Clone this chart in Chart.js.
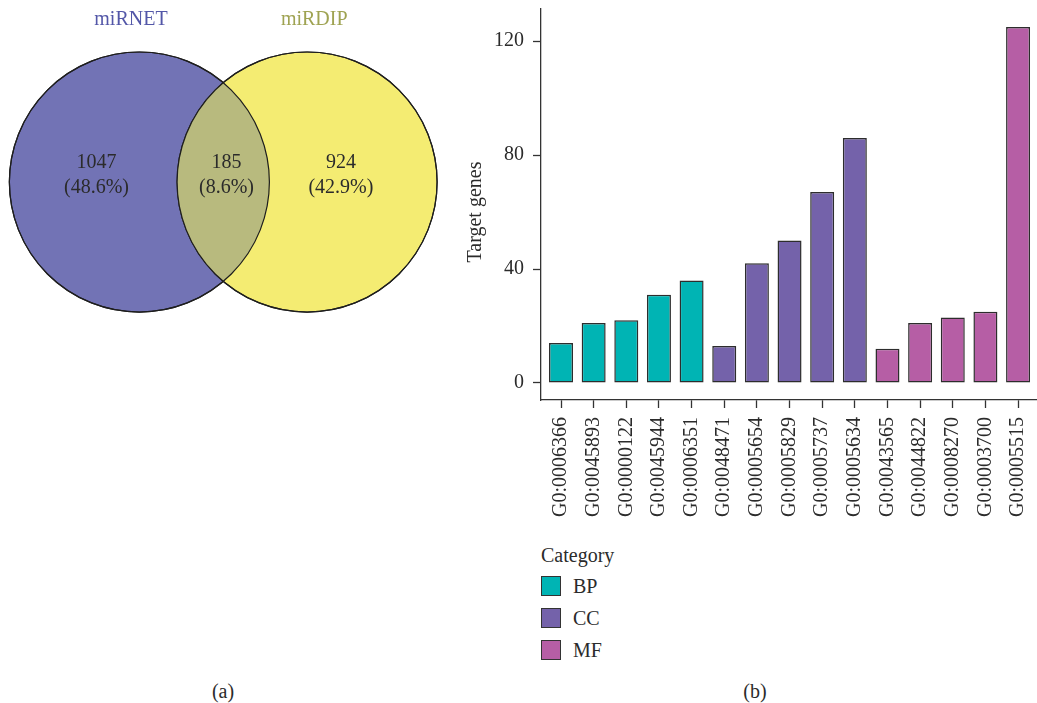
<!DOCTYPE html>
<html>
<head>
<meta charset="utf-8">
<title>miRNA target overlap and GO enrichment</title>
<script src="https://cdn.jsdelivr.net/npm/chart.js@4.4.1/dist/chart.umd.min.js"></script>
<style>
  html, body { margin: 0; padding: 0; background: #ffffff; }
  #page {
    position: relative; width: 1037px; height: 703px; overflow: hidden;
    font-family: 'Liberation Serif', 'DejaVu Serif', serif; color: #2b2b2b;
  }
  #venn { position: absolute; left: 0; top: 0; }
  #bars { position: absolute; left: 460px; top: 0; }
  .panel-tag {
    position: absolute; top: 679px; font-size: 20px; line-height: 24px;
    transform: translateX(-50%); white-space: nowrap;
  }
  #legend { position: absolute; left: 541px; top: 543px; font-size: 20px; line-height: 24px; }
  #legend .lg-title { height: 24px; margin-bottom: 9px; }
  #legend .lg-item { position: relative; height: 20px; margin-bottom: 12px; }
  #legend .lg-box {
    position: absolute; left: 0; top: 0; width: 18px; height: 18px;
    border: 1.5px solid #333333;
  }
  #legend .lg-label { position: absolute; left: 32px; top: -2px; }
</style>
</head>
<body>
<div id="page">
  <canvas id="venn" width="460" height="330"></canvas>
  <canvas id="bars" width="577" height="530"></canvas>
  <div id="legend"></div>
  <div class="panel-tag" style="left:223px">(a)</div>
  <div class="panel-tag" style="left:755px">(b)</div>
</div>
<script>
// ---- data ------------------------------------------------------------
// Venn: the two target sources and the size of each region
const vennSets = ['miRNET', 'miRDIP'];
const vennCounts = [1047, 185, 924];   // miRNET only, shared, miRDIP only

// GO terms enriched among the shared targets
const goTerms = [
  'G0:0006366', 'G0:0045893', 'G0:0000122', 'G0:0045944', 'G0:0006351',
  'G0:0048471', 'G0:0005654', 'G0:0005829', 'G0:0005737', 'G0:0005634',
  'G0:0043565', 'G0:0044822', 'G0:0008270', 'G0:0003700', 'G0:0005515'
];
const goCategory = [
  'BP', 'BP', 'BP', 'BP', 'BP',
  'CC', 'CC', 'CC', 'CC', 'CC',
  'MF', 'MF', 'MF', 'MF', 'MF'
];
const geneCounts = [14, 21, 22, 31, 36, 13, 42, 50, 67, 86, 12, 21, 23, 25, 125];
const categoryNames = ['BP', 'CC', 'MF'];
const yTickValues = [0, 40, 80, 120];
const yAxisTitle = 'Target genes';

// ---- styling ---------------------------------------------------------
const TEXT = '#2b2b2b';
const AXIS = '#333333';
const SERIF = "'Liberation Serif', 'DejaVu Serif', serif";
const categoryColours = { BP: '#00b4b4', CC: '#7462aa', MF: '#b65ea5' };
const setColours = ['#7273b5', '#f4ec72'];
const setTitleColours = ['#5357a8', '#9fa352'];
const overlapColour = '#b8ba7e';
const outline = '#1e1e1e';

// ---- Venn diagram ----------------------------------------------------
// geometry in "radius units": two equal circles whose centres are 1.29 r apart
const CIRCLE_R = 1;
const CENTRE_GAP = 1.29;
const unitPx = chart => {
  const xs = chart.scales.x;
  const px = xs ? Math.abs(xs.getPixelForValue(1) - xs.getPixelForValue(0)) : 0;
  return Number.isFinite(px) ? px : 0;
};
const regionLabelX = [-0.975, 0.025, 0.905];
const titleX = [-0.71, 0.70];
const titleY = 1.246;

const vennPlugin = {
  id: 'vennRegions',
  afterDatasetsDraw(chart) {
    const { ctx, scales: { x, y } } = chart;
    const r = unitPx(chart) * CIRCLE_R;
    const circles = chart.getDatasetMeta(0).data.map(el => ({ x: el.x, y: el.y, r }));
    const [a, b] = circles;

    // shared region
    ctx.save();
    ctx.beginPath(); ctx.arc(a.x, a.y, a.r, 0, Math.PI * 2); ctx.clip();
    ctx.beginPath(); ctx.arc(b.x, b.y, b.r, 0, Math.PI * 2);
    ctx.fillStyle = overlapColour; ctx.fill();
    ctx.restore();

    // outlines on top
    ctx.save();
    ctx.strokeStyle = outline; ctx.lineWidth = 1.2;
    circles.forEach(c => { ctx.beginPath(); ctx.arc(c.x, c.y, c.r, 0, Math.PI * 2); ctx.stroke(); });
    ctx.restore();

    // set names
    ctx.save();
    ctx.font = `20px ${SERIF}`;
    ctx.textAlign = 'center'; ctx.textBaseline = 'middle';
    vennSets.forEach((name, i) => {
      ctx.fillStyle = setTitleColours[i];
      ctx.fillText(name, x.getPixelForValue(titleX[i]), y.getPixelForValue(titleY));
    });

    // region counts and shares
    const total = vennCounts.reduce((s, v) => s + v, 0);
    const cy = y.getPixelForValue(0) - 7;
    ctx.fillStyle = TEXT;
    vennCounts.forEach((n, i) => {
      const px = x.getPixelForValue(regionLabelX[i]);
      ctx.fillText(String(n), px, cy - 12.7);
      ctx.fillText(`(${(n / total * 100).toFixed(1)}%)`, px, cy + 12.7);
    });
    ctx.restore();
  }
};

new Chart(document.getElementById('venn'), {
  type: 'scatter',
  data: {
    datasets: [{
      data: vennSets.map((s, i) => ({ x: (i === 0 ? -1 : 1) * CENTRE_GAP / 2, y: 0 })),
      pointBackgroundColor: setColours,
      pointBorderColor: outline,
      pointBorderWidth: 1.2,
      pointRadius: ctx => unitPx(ctx.chart) * CIRCLE_R,
      pointHoverRadius: ctx => unitPx(ctx.chart) * CIRCLE_R,
      showLine: false,
      clip: false
    }]
  },
  options: {
    responsive: false, animation: false, events: [], devicePixelRatio: 1,
    layout: { padding: 0 },
    plugins: { legend: { display: false }, tooltip: { enabled: false } },
    scales: {
      x: { type: 'linear', display: false, min: -1.717, max: 1.821 },
      y: { type: 'linear', display: false, min: -1.138, max: 1.4 }
    }
  },
  plugins: [vennPlugin]
});

// ---- GO bar chart ----------------------------------------------------
const tickFont = { family: SERIF, size: 20 };
const axisGrid = {
  display: true, drawOnChartArea: false, drawTicks: true, offset: false,
  tickLength: 8, tickWidth: 1.3, tickColor: AXIS
};
const axisBorder = { display: true, color: AXIS, width: 1.3 };

// y-axis title, centred on the labelled tick range
const yTitlePlugin = {
  id: 'yTitle',
  afterDraw(chart) {
    const { ctx, scales: { y } } = chart;
    const mid = (yTickValues[0] + yTickValues[yTickValues.length - 1]) / 2;
    ctx.save();
    ctx.translate(y.left + 16, y.getPixelForValue(mid));
    ctx.rotate(-Math.PI / 2);
    ctx.font = `20px ${SERIF}`;
    ctx.fillStyle = TEXT;
    ctx.textAlign = 'center'; ctx.textBaseline = 'middle';
    ctx.fillText(yAxisTitle, 0, 0);
    ctx.restore();
  }
};

new Chart(document.getElementById('bars'), {
  type: 'bar',
  data: {
    datasets: [{
      data: geneCounts.map((v, i) => ({ x: i, y: v })),
      backgroundColor: goCategory.map(c => categoryColours[c]),
      borderColor: '#2d2d2d',
      borderWidth: 1.5,
      borderSkipped: false,
      categoryPercentage: 1,
      barPercentage: 0.735
    }]
  },
  options: {
    responsive: false, animation: false, events: [], devicePixelRatio: 1,
    layout: { padding: { top: 9, left: 0, right: 0, bottom: 0 } },
    plugins: { legend: { display: false }, tooltip: { enabled: false } },
    scales: {
      x: {
        type: 'linear', min: -0.613, max: 14.58, offset: false,
        afterBuildTicks: s => { s.ticks = goTerms.map((_, i) => ({ value: i })); },
        afterFit: s => { s.height = 130; s.paddingLeft = 0; s.paddingRight = 0; },
        ticks: {
          autoSkip: false, minRotation: 90, maxRotation: 90, padding: 9,
          font: tickFont, color: TEXT,
          callback: v => goTerms[v]
        },
        grid: axisGrid,
        border: axisBorder
      },
      y: {
        type: 'linear', min: -6, max: 131.3,
        afterBuildTicks: s => { s.ticks = yTickValues.map(v => ({ value: v })); },
        afterFit: s => { s.width = 81; s.paddingTop = 0; s.paddingBottom = 0; },
        ticks: { padding: 9, font: tickFont, color: TEXT },
        grid: axisGrid,
        border: axisBorder
      }
    }
  },
  plugins: [yTitlePlugin]
});

// ---- category legend -------------------------------------------------
const legend = document.getElementById('legend');
legend.innerHTML = '<div class="lg-title">Category</div>' +
  categoryNames.map(c =>
    `<div class="lg-item"><div class="lg-box" style="background:${categoryColours[c]}"></div>` +
    `<div class="lg-label">${c}</div></div>`).join('');
</script>
</body>
</html>
